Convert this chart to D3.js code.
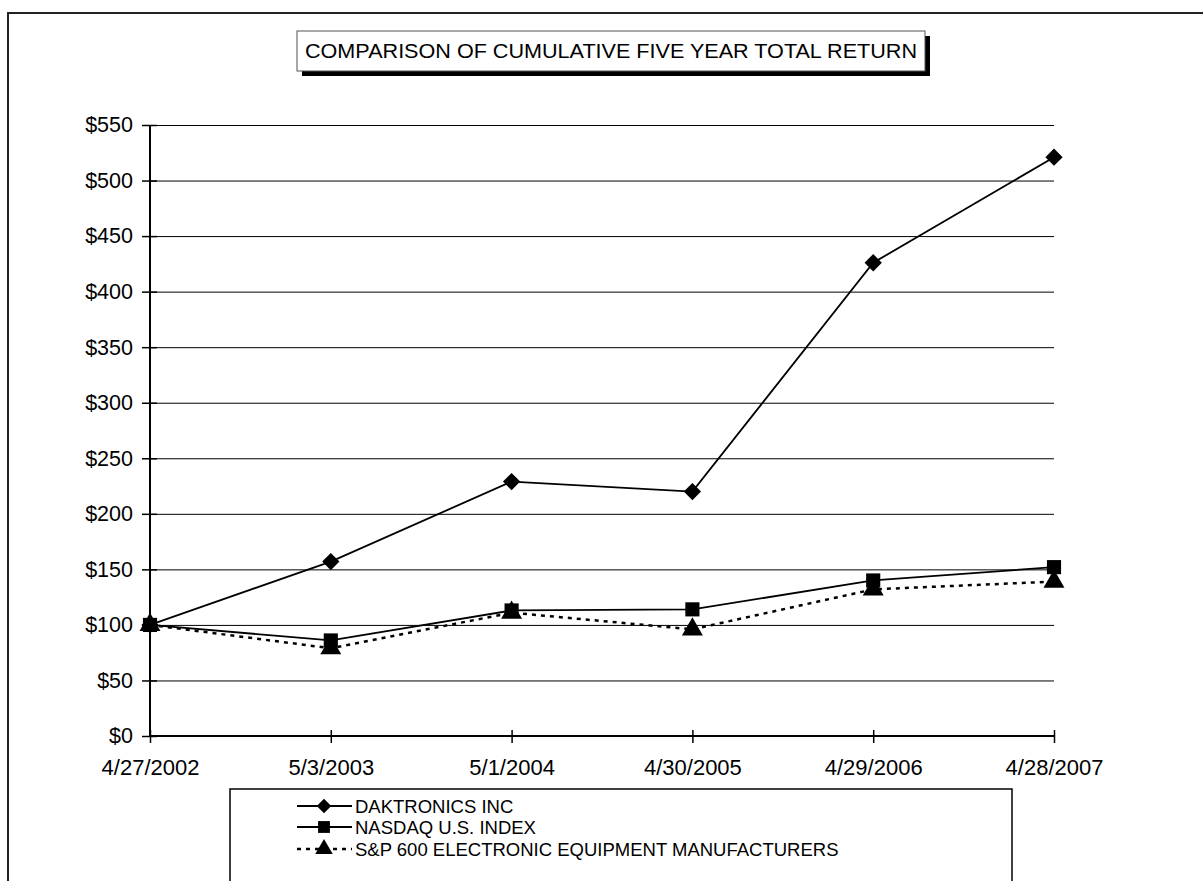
<!DOCTYPE html>
<html>
<head>
<meta charset="utf-8">
<script src="https://cdn.jsdelivr.net/npm/d3@7"></script>
<style>
  html, body { margin: 0; padding: 0; background: #fff; }
  svg { display: block; font-family: "Liberation Sans", Arial, sans-serif; }
</style>
</head>
<body>
<svg id="chart" width="1203" height="881"></svg>
<script>
// Period end dates (x categories)
const dates = ["4/27/2002", "5/3/2003", "5/1/2004", "4/30/2005", "4/29/2006", "4/28/2007"];
// Cumulative value of $100 invested
const daktronics = [100, 157, 229, 220, 426, 521];
const nasdaq     = [100, 86, 113, 114, 140, 152];
const sp600      = [100, 79, 111, 96, 132, 139];
// Y axis ticks
const yTicks = [0, 50, 100, 150, 200, 250, 300, 350, 400, 450, 500, 550];
const seriesNames = ["DAKTRONICS INC", "NASDAQ U.S. INDEX", "S&P 600 ELECTRONIC EQUIPMENT MANUFACTURERS"];
const titleText = "COMPARISON OF CUMULATIVE FIVE YEAR TOTAL RETURN";

const svg = d3.select("#chart");

// outer frame
svg.append("rect")
  .attr("x", 8).attr("y", 13).attr("width", 1210).attr("height", 900)
  .attr("fill", "none").attr("stroke", "#222").attr("stroke-width", 2);

const plot = { left: 150, right: 1054, top: 125, bottom: 736 };

const x = d3.scalePoint().domain(dates).range([plot.left, plot.right]);
const y = d3.scaleLinear().domain([0, 550]).range([plot.bottom, plot.top]);

// horizontal gridlines
svg.append("g")
  .attr("transform", `translate(${plot.left},0)`)
  .call(d3.axisLeft(y).tickValues(yTicks).tickSize(-(plot.right - plot.left)).tickFormat(""))
  .call(g => g.select(".domain").remove())
  .call(g => g.selectAll(".tick line").attr("stroke", "#000").attr("stroke-width", 1));

// y axis
svg.append("g")
  .attr("transform", `translate(${plot.left},0)`)
  .call(d3.axisLeft(y).tickValues(yTicks).tickSize(8).tickPadding(9).tickFormat(d => "$" + d))
  .call(g => g.select(".domain").attr("stroke", "#000").attr("stroke-width", 2).attr("d", `M0,${plot.top}V${plot.bottom}`))
  .call(g => g.selectAll(".tick line").attr("x1", 7).attr("x2", -8).attr("stroke", "#000").attr("stroke-width", 1.5))
  .call(g => g.selectAll(".tick text").attr("font-size", 21.5).attr("fill", "#000")
    .attr("font-family", "'Liberation Sans', Arial, sans-serif"));

// x axis
svg.append("g")
  .attr("transform", `translate(0,${plot.bottom})`)
  .call(d3.axisBottom(x).tickSize(7).tickPadding(16))
  .call(g => g.select(".domain").attr("stroke", "#000").attr("stroke-width", 2).attr("d", `M${plot.left},0H${plot.right}`))
  .call(g => g.selectAll(".tick line").attr("y1", -6).attr("y2", 7).attr("stroke", "#000").attr("stroke-width", 1.5))
  .call(g => g.selectAll(".tick text").attr("font-size", 22).attr("fill", "#000")
    .attr("font-family", "'Liberation Sans', Arial, sans-serif"));

const series = [
  { name: seriesNames[0], values: daktronics, symbol: d3.symbolDiamond2, size: 190, dash: null },
  { name: seriesNames[1], values: nasdaq, symbol: d3.symbolSquare, size: 200, dash: null },
  { name: seriesNames[2], values: sp600, symbol: d3.symbolTriangle, size: 190, dash: "4,5" }
];

const line = d3.line().x((d, i) => x(dates[i])).y(d => y(d));

// draw lines bottom-up so markers sit on top
series.slice().reverse().forEach(s => {
  svg.append("path")
    .datum(s.values)
    .attr("d", line)
    .attr("fill", "none")
    .attr("stroke", "#000")
    .attr("stroke-width", s.dash ? 2.5 : 1.8)
    .attr("stroke-dasharray", s.dash);
});
series.slice().reverse().forEach(s => {
  svg.append("g").selectAll("path")
    .data(s.values)
    .join("path")
    .attr("transform", (d, i) => `translate(${x(dates[i])},${y(d)})`)
    .attr("d", d3.symbol().type(s.symbol).size(s.size))
    .attr("fill", "#000");
});

// title box with drop shadow
const tb = { x: 297, y: 31, w: 628, h: 40 };
svg.append("rect").attr("x", tb.x + 5).attr("y", tb.y + 5).attr("width", tb.w).attr("height", tb.h).attr("fill", "#000");
svg.append("rect").attr("x", tb.x).attr("y", tb.y).attr("width", tb.w).attr("height", tb.h)
  .attr("fill", "#fff").attr("stroke", "#555").attr("stroke-width", 1);
svg.append("text")
  .attr("x", tb.x + tb.w / 2).attr("y", tb.y + 27)
  .attr("text-anchor", "middle").attr("font-size", 20)
  .attr("textLength", 612).attr("lengthAdjust", "spacingAndGlyphs")
  .text(titleText);

// legend
const lg = { x: 230, y: 789 };
svg.append("rect").attr("x", lg.x).attr("y", lg.y).attr("width", 782).attr("height", 200)
  .attr("fill", "#fff").attr("stroke", "#000").attr("stroke-width", 1.5);
const rowY = [806, 827, 849];
series.forEach((s, i) => {
  const g = svg.append("g");
  g.append("line").attr("x1", 297).attr("x2", 352).attr("y1", rowY[i]).attr("y2", rowY[i])
    .attr("stroke", "#000").attr("stroke-width", s.dash ? 2.5 : 1.8).attr("stroke-dasharray", s.dash);
  g.append("path").attr("transform", `translate(324,${rowY[i]})`)
    .attr("d", d3.symbol().type(s.symbol).size(s.size * 0.7)).attr("fill", "#000");
  g.append("text").attr("x", 355).attr("y", rowY[i] + 7).attr("font-size", 18.5).text(s.name);
});
</script>
</body>
</html>
